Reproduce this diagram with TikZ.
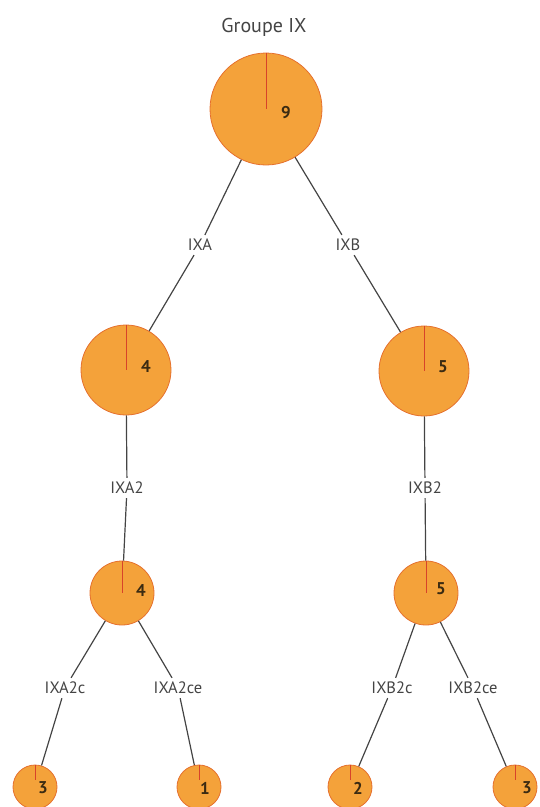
\documentclass[tikz,border=0pt]{standalone}
\usepackage{fontspec}
\setmainfont{PT Sans}
\usepackage{xcolor}
\usepackage{tikz}
\usetikzlibrary{calc}

\definecolor{pieorange}{HTML}{F4A23A}
\definecolor{pieborder}{HTML}{E5702E}
\definecolor{tickred}{HTML}{D8432A}
\definecolor{labelgray}{HTML}{444444}
\definecolor{countbrown}{HTML}{3B2B12}

\begin{document}
\begin{tikzpicture}[
    x=1pt, y=-1pt,
    every node/.style={font=\fontsize{16.5}{18}\selectfont, text=labelgray},
    pie/.style={circle, draw=pieborder, fill=pieorange, line width=0.8pt, inner sep=0pt},
    big/.style={pie, minimum size=112pt},
    mid/.style={pie, minimum size=90pt},
    small/.style={pie, minimum size=64pt},
    leaf/.style={pie, minimum size=44pt},
    branch/.style={inner sep=4pt},
    link/.style={draw=labelgray, line width=1.2pt},
    tick/.style={draw=tickred, line width=0.9pt},
    count/.style={text=countbrown, font=\fontsize{17}{18}\selectfont\bfseries}
]
\useasboundingbox (0,0) rectangle (540,807);

% Title
\node[font=\fontsize{20}{22}\selectfont] (title) at (264,27) {Groupe IX};

% Circles
\node[big] (root) at (266,109) {};
\node[mid] (nA) at (126,370) {};
\node[mid] (nB) at (424,371) {};
\node[small] (nAtwo) at (122,593) {};
\node[small] (nBtwo) at (426,593) {};
\node[leaf] (lAc) at (35,787) {};
\node[leaf] (lAce) at (199,787) {};
\node[leaf] (lBc) at (350,787) {};
\node[leaf] (lBce) at (515,787) {};

% Branch labels
\node[branch] (ixa) at (200,245) {IXA};
\node[branch] (ixb) at (348,245) {IXB};
\node[branch] (ixatwo) at (127,488) {IXA2};
\node[branch] (ixbtwo) at (425,488) {IXB2};
\node[branch] (ixac) at (65,688) {IXA2c};
\node[branch] (ixace) at (178,688) {IXA2ce};
\node[branch] (ixbc) at (392,688) {IXB2c};
\node[branch] (ixbce) at (473,688) {IXB2ce};

% Connectors
\draw[link] (root) -- (ixa) -- (nA);
\draw[link] (root) -- (ixb) -- (nB);
\draw[link] (nA) -- (ixatwo) -- (nAtwo);
\draw[link] (nB) -- (ixbtwo) -- (nBtwo);
\draw[link] (nAtwo) -- (ixac) -- (lAc);
\draw[link] (nAtwo) -- (ixace) -- (lAce);
\draw[link] (nBtwo) -- (ixbc) -- (lBc);
\draw[link] (nBtwo) -- (ixbce) -- (lBce);

% Red ticks and counts
\foreach \n/\v/\dx/\dy/\f in {root/9/20/-4/1, nA/4/20/4/1, nB/5/19/4/1, nAtwo/4/19/3/1, nBtwo/5/15/4/1,
                      lAc/3/8/-1/0.7, lAce/1/6/-1/0.7, lBc/2/8/-1/0.7, lBce/3/12/-1/0.7} {
    \draw[tick] (\n.north) -- ($(\n.north)!\f!(\n.center)$);
    \node[count, anchor=center] at ([xshift=\dx pt, yshift=\dy pt]\n.center) {\v};
}
\end{tikzpicture}
\end{document}
